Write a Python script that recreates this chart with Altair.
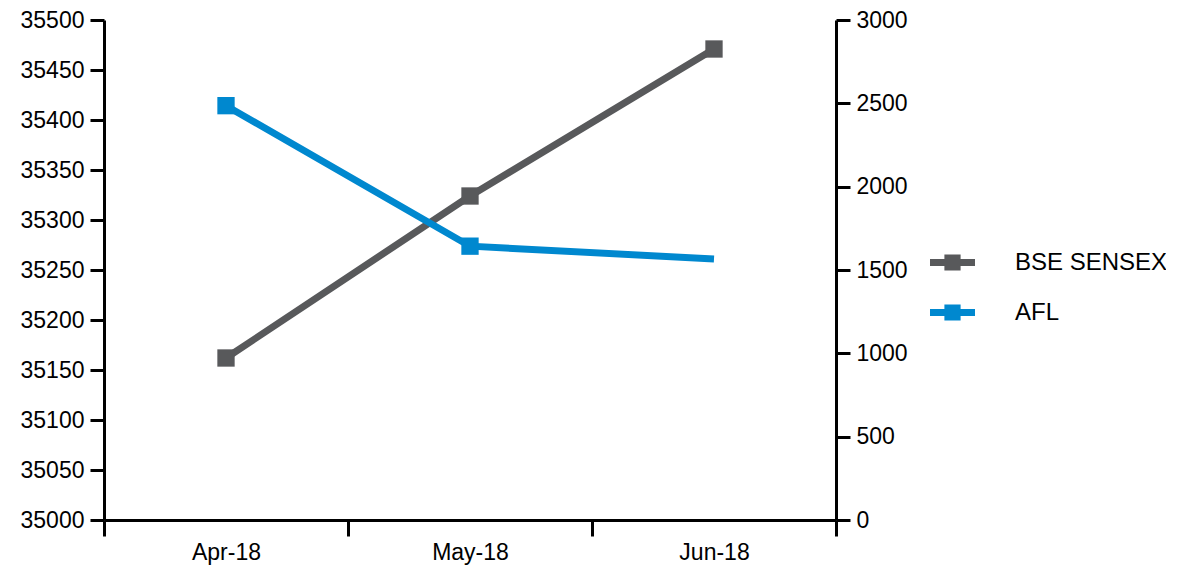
import altair as alt
import pandas as pd

months = ["Apr-18", "May-18", "Jun-18"]
bse = [35162, 35324, 35471]
afl = [2486, 1643, 1566]
afl_marker = [True, True, False]
bse_marker = [True, True, True]
series_names = ["BSE SENSEX", "AFL"]
colors = ["#58595b", "#0088cf"]
left_ticks = [35000, 35050, 35100, 35150, 35200, 35250, 35300, 35350, 35400, 35450, 35500]
right_ticks = [0, 500, 1000, 1500, 2000, 2500, 3000]

df_bse = pd.DataFrame({"month": months, "value": bse, "series": "BSE SENSEX", "marker": bse_marker})
df_afl = pd.DataFrame({"month": months, "value": afl, "series": "AFL", "marker": afl_marker})

FONT = "Liberation Sans"
FS = 23
LEG_PATH = ("M-1,-0.16 L1,-0.16 L1,0.16 L-1,0.16 Z "
            "M-0.36,-0.36 L0.36,-0.36 L0.36,0.36 L-0.36,0.36 Z")

x_enc = alt.X("month:N", sort=months, bandPosition=0.5,
              scale=alt.Scale(type="band", paddingInner=0, paddingOuter=0),
              axis=alt.Axis(title=None, tickBand="extent", labelFontSize=FS, labelFont=FONT,
                            labelColor="black", domainColor="black", domainWidth=3,
                            tickColor="black", tickWidth=3, tickSize=16, labelPadding=5,
                            labelAngle=0))

color_scale = alt.Scale(domain=series_names, range=colors)

def layers(df, y_axis, domain, line_color):
    y = alt.Y("value:Q", scale=alt.Scale(domain=domain, nice=False, zero=False), axis=y_axis)
    line = alt.Chart(df).mark_line(strokeWidth=7, color=line_color).encode(x=x_enc, y=y)
    pts = alt.Chart(df).transform_filter("datum.marker").mark_square(size=300, filled=True, opacity=1).encode(
        x=x_enc, y=y,
        color=alt.Color("series:N", scale=color_scale, sort=series_names,
                        legend=alt.Legend(title=None, orient="none", legendX=826, legendY=220,
                                          symbolType=LEG_PATH, symbolSize=2025,
                                          symbolStrokeWidth=0, labelFontSize=24, labelFont=FONT,
                                          labelColor="black", labelOffset=40, rowPadding=15,
                                          padding=0)))
    return alt.layer(line, pts)

left_axis = alt.Axis(title=None, values=left_ticks, format="d", labelFontSize=FS, labelFont=FONT,
                     labelColor="black", domainColor="black", domainWidth=3, tickColor="black",
                     tickWidth=3, tickSize=14, labelPadding=6, grid=False)
right_axis = alt.Axis(title=None, orient="right", values=right_ticks, format="d", labelFontSize=FS,
                      labelFont=FONT, labelColor="black", domainColor="black", domainWidth=3,
                      tickColor="black", tickWidth=3, tickSize=14, labelPadding=6, grid=False)

left = layers(df_bse, left_axis, [35000, 35500], colors[0])
right = layers(df_afl, right_axis, [0, 3000], colors[1])

chart = alt.layer(left, right).resolve_scale(y="independent").properties(
    width=732, height=500,
    autosize=alt.AutoSizeParams(type="none"),
    padding={"left": 96, "top": 12, "right": 330, "bottom": 45},
    background="white",
).configure_view(stroke=None)

chart.save("out.html", embed_options={"renderer": "svg", "actions": False})
